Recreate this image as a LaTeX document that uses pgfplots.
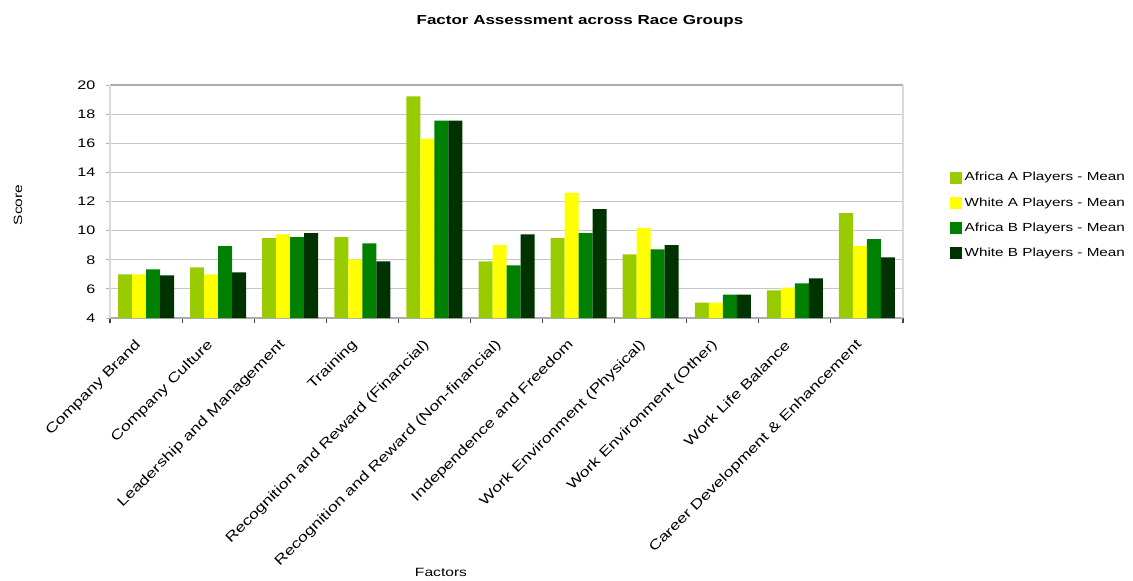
\documentclass[border=0pt]{standalone}
\usepackage{pgfplots}
\usepackage{pgfplotstable}
\pgfplotsset{compat=1.18}
\usepackage{fontspec}
\setmainfont{Liberation Sans}[FakeStretch=1.3]
\definecolor{afA}{HTML}{99CC00}
\definecolor{whA}{HTML}{FFFF00}
\definecolor{afB}{HTML}{008000}
\definecolor{whB}{HTML}{003300}
\pgfplotstableread{
x AA WA AB WB
0 7.0 7.0 7.34 6.92
1 7.48 7.0 8.93 7.13
2 9.48 9.75 9.55 9.82
3 9.55 8.03 9.13 7.89
4 19.22 16.32 17.56 17.56
5 7.89 9.0 7.61 9.75
6 9.48 12.59 9.82 11.48
7 8.37 10.19 8.72 9.0
8 5.06 5.06 5.61 5.61
9 5.89 6.09 6.37 6.72
10 11.2 8.93 9.41 8.17
}\data
\begin{document}
\begin{tikzpicture}
\path[use as bounding box] (0,0) rectangle (849.75pt,-435.75pt);
\node[font=\bfseries\fontsize{9.8}{12}\selectfont] at (435pt,-16pt) {Factor Assessment across Race Groups};
\node[font=\fontsize{9}{11}\selectfont, rotate=90] at (13.5pt,-153.75pt) {Score};
\node[font=\fontsize{9}{11}\selectfont] at (330.75pt,-429pt) {Factors};
\begin{axis}[
  at={(82.5pt,-238.5pt)}, anchor=south west,
  width=594.75pt, height=174.75pt, scale only axis,
  ybar=0pt, bar width=10.5pt,
  xmin=-0.5, xmax=10.5, ymin=4, ymax=20,
  ytick={4,6,...,20},
  xtick={0,...,10},
  xticklabels={Company Brand, Company Culture, Leadership and Management, Training, Recognition and Reward (Financial), Recognition and Reward (Non-financial), Independence and Freedom, Work Environment (Physical), Work Environment (Other), Work Life Balance, Career Development \& Enhancement},
  minor xtick={-0.5,0.5,...,10.5},
  xtick style={draw=none},
  minor x tick style={draw=black!75, line width=0.8pt},
  y tick style={draw=gray!60, line width=0.6pt},
  tick align=outside, xtick pos=bottom, ytick pos=left,
  major tick length=3pt, minor tick length=4pt,
  separate axis lines,
  x axis line style={draw=gray!65, line width=1pt},
  y axis line style={draw=gray!30, line width=1.2pt},
  ymajorgrids, major grid style={draw=gray!45, line width=0.8pt},
  /pgf/number format/assume math mode=true,
  yticklabel style={font=\fontsize{9.3}{11}\selectfont, xshift=-4.5pt},
  xticklabel style={font=\fontsize{10.2}{12}\selectfont, rotate=45, anchor=east, yshift=-7.1pt, xshift=-11.35pt},
  legend style={at={(1.059,0.44)}, anchor=west, draw=none, fill=none,
    font=\fontsize{8.8}{11}\selectfont, row sep=7pt, inner sep=0pt,
    /tikz/every even column/.append style={column sep=2pt}},
  legend cell align=left,
  legend image code/.code={\fill[#1] (0pt,-4.5pt) rectangle (9pt,4.5pt);},
]
\addplot[fill=afA, draw=none] table[x=x, y=AA] {\data};
\addplot[fill=whA, draw=none] table[x=x, y=WA] {\data};
\addplot[fill=afB, draw=none] table[x=x, y=AB] {\data};
\addplot[fill=whB, draw=none] table[x=x, y=WB] {\data};
\legend{Africa A Players - Mean, White A Players - Mean, Africa B Players - Mean, White B Players - Mean}
\end{axis}
\end{tikzpicture}
\end{document}
